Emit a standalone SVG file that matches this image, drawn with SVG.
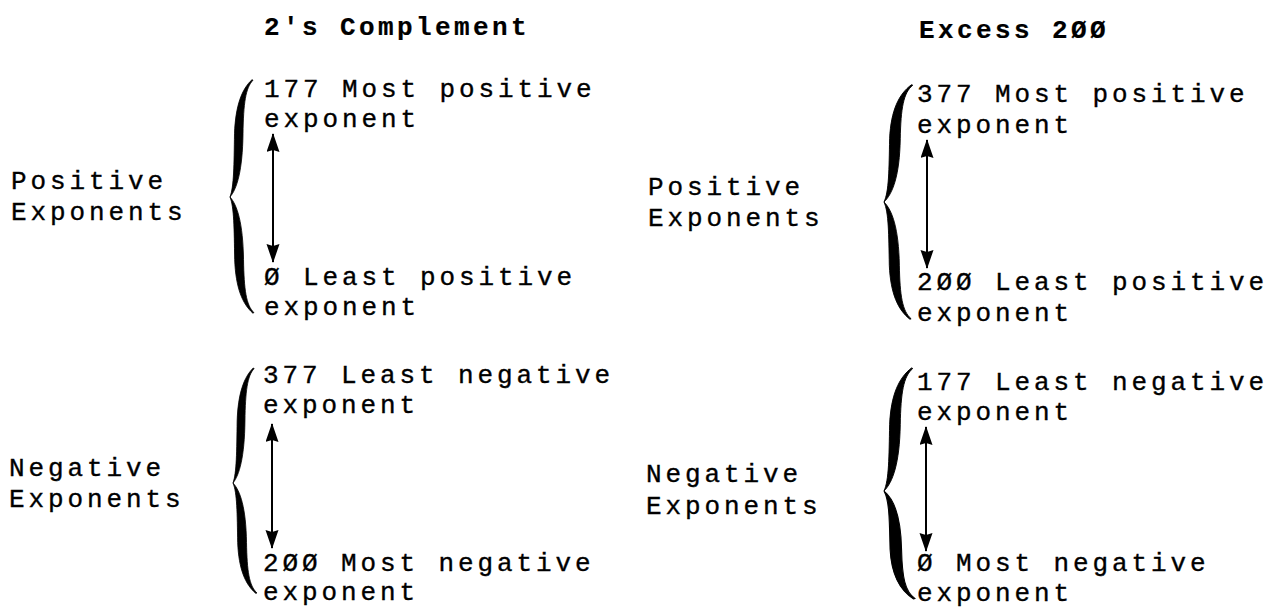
<svg xmlns="http://www.w3.org/2000/svg" xmlns:xlink="http://www.w3.org/1999/xlink" width="1266" height="609" viewBox="0 0 1266 609">
<style>
  text { font-family: "Liberation Mono", "DejaVu Sans Mono", monospace; font-size: 26px; letter-spacing: 3.9px; fill: #000; stroke: #000; stroke-width: 0.35px; }
  .title { font-weight: bold; letter-spacing: 3.4px; stroke-width: 0.2px; }
  .brace { fill: #000; stroke: #000; stroke-width: 0.8; }
  .arrow { stroke: #000; stroke-width: 2; fill: none; marker-start: url(#ah); marker-end: url(#ah); }
</style>
<defs>
  <marker id="ah" markerUnits="userSpaceOnUse" markerWidth="20" markerHeight="14" refX="18" refY="6.5" orient="auto-start-reverse" viewBox="0 0 20 14">
    <path d="M0,0 L19,6.5 L0,13 L2,6.5 Z" fill="#000"/>
  </marker>
  <path id="bt" d="M22,-115 C12,-106 5.5,-90 4.5,-62 C4,-32 4,-10 0,0 C7,-8 12.5,-26 13,-62 C13.5,-92 15.5,-107 23,-114.5 Z"/>
  <path id="bb" d="M22,115 C12,106 5.5,90 4.5,62 C4,32 4,10 0,0 C7,8 12.5,26 13,62 C13.5,92 15.5,107 23,114.5 Z"/>
</defs>
<rect width="1266" height="609" fill="#fff"/>

<g id="title-twos">
  <text class="title" x="264" y="35">2's Complement</text>
</g>
<g id="title-excess">
  <text class="title" x="919" y="38">Excess 2ØØ</text>
</g>

<g id="twos-positive">
  <text x="11" y="189">Positive</text>
  <text x="11" y="220">Exponents</text>
  <use class="brace" xlink:href="#bt" transform="translate(230,197) scale(1,1.02)"/>
  <use class="brace" xlink:href="#bb" transform="translate(230,197) scale(1.04,1.01)"/>
  <text x="264" y="97">177 Most positive</text>
  <text x="264" y="127">exponent</text>
  <text x="264" y="285">Ø Least positive</text>
  <text x="264" y="315">exponent</text>
</g>

<g id="twos-negative">
  <text x="9" y="476">Negative</text>
  <text x="9" y="507">Exponents</text>
  <use class="brace" xlink:href="#bt" transform="translate(233,483) scale(0.92,1)"/>
  <use class="brace" xlink:href="#bb" transform="translate(233,483) scale(1.04,0.96)"/>
  <text x="263" y="383">377 Least negative</text>
  <text x="263" y="413">exponent</text>
  <text x="263" y="571">2ØØ Most negative</text>
  <text x="263" y="600">exponent</text>
</g>

<g id="excess-positive">
  <text x="648" y="195">Positive</text>
  <text x="648" y="226">Exponents</text>
  <use class="brace" xlink:href="#bt" transform="translate(884,202) scale(1.25,1.02)"/>
  <use class="brace" xlink:href="#bb" transform="translate(884,202) scale(1.18,1.02)"/>
  <text x="917" y="102">377 Most positive</text>
  <text x="917" y="133">exponent</text>
  <text x="917" y="290">2ØØ Least positive</text>
  <text x="917" y="321">exponent</text>
</g>

<g id="excess-negative">
  <text x="646" y="482">Negative</text>
  <text x="646" y="514">Exponents</text>
  <use class="brace" xlink:href="#bt" transform="translate(884,491) scale(1.25,1.07)"/>
  <use class="brace" xlink:href="#bb" transform="translate(884,491) scale(1.35,0.94)"/>
  <text x="917" y="390">177 Least negative</text>
  <text x="917" y="420">exponent</text>
  <text x="917" y="571">Ø Most negative</text>
  <text x="917" y="601">exponent</text>
</g>

<g id="connectors">
  <line class="arrow" x1="273" y1="134" x2="273" y2="262"/>
  <line class="arrow" x1="272" y1="424" x2="272" y2="548"/>
  <line class="arrow" x1="927" y1="140" x2="927" y2="268"/>
  <line class="arrow" x1="926" y1="427" x2="926" y2="551"/>
</g>
</svg>
